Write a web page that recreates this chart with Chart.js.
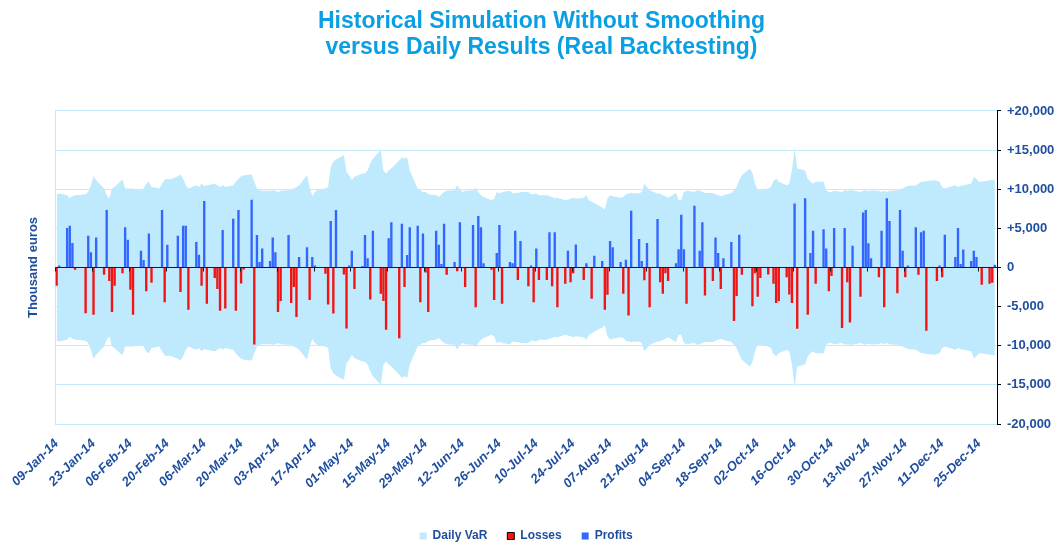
<!DOCTYPE html>
<html>
<head>
<meta charset="utf-8">
<script src="https://cdn.jsdelivr.net/npm/chart.js@4.4.1/dist/chart.umd.min.js"></script>
<style>
  html, body { margin: 0; padding: 0; background: #fff; }
  #wrap { width: 1063px; height: 547px; }
</style>
</head>
<body>
<div id="wrap"><canvas id="c"></canvas></div>
<script>
/* Backtesting VaR: banda VaR simmetrica + risultati giornalieri (migliaia di euro).
 * Asse X in giorni di calendario dal 09-Jan-14, un punto per giorno lavorativo. */

// etichette asse X, una ogni 14 giorni
const tickLabels = ['09-Jan-14', '23-Jan-14', '06-Feb-14', '20-Feb-14', '06-Mar-14', '20-Mar-14', '03-Apr-14',
  '17-Apr-14', '01-May-14', '15-May-14', '29-May-14', '12-Jun-14', '26-Jun-14', '10-Jul-14', '24-Jul-14',
  '07-Aug-14', '21-Aug-14', '04-Sep-14', '18-Sep-14', '02-Oct-14', '16-Oct-14', '30-Oct-14', '13-Nov-14',
  '27-Nov-14', '11-Dec-14', '25-Dec-14'];

// risultato giornaliero (una riga = 10 giorni lavorativi, da un'etichetta alla successiva)
const pnl = [
  -2300, 200, 5000, 5300, 3100, -250, 0, -5800, 4000, 1900,
  -6000, 3800, -900, 7300, -1700, -5650, -2300, -700, 5100, 3500,
  -2800, -6000, 2100, 900, -3000, 4300, -1900, 0, 7300, -4400,
  2850, 0, 4000, -3100, 5300, 5300, -5350, 3200, 1600, -2300,
  8450, -4600, -1300, -2700, -5500, 4750, -5200, 6200, -5500, 7300,
  -2000, -200, 8600, -9800, 4100, 650, 2400, 800, 3800, 1900,
  -5650, -4250, 4100, -4500, -2450, -6300, 1300, 2550, -4100, 1300,
  200, 0, -750, -4700, 5900, -5850, 7300, -850, -7750, 200,
  2100, -2700, 150, 4100, 1150, -4050, 4650, -3300, -4250, -7900,
  3700, 5750, -9000, 5550, -2450, 1550, 5100, 5300, -4400, 4300,
  -600, -5650, 4650, 2850, 400, 5550, -900, 650, -450, 5750,
  0, -2450, 5400, -5050, 6550, 5100, 500, -250, -4100, 1800,
  5400, -4600, 650, 500, 4650, -1550, 3350, -2350, 200, -4400,
  2400, -1550, -1550, 4450, -2350, 4450, -5050, -2050, 2100, -1850,
  -700, 2900, -1550, 500, 0, -3950, 1450, 800, -5350, -3450,
  3350, 2550, 650, -3300, 950, -6100, 7200, 3600, 800, -1600,
  3100, -5050, 6150, -1850, -3300, -700, -1700, 500, 2300, 6700,
  2300, -4600, 7850, 0, 2100, 5750, -3550, -1700, 3800, 1800,
  -2700, 1150, 3200, -6800, -3600, 4150, -900, 0, -4900, -700,
  -3700, -1300, -850, 0, -2050, -4500, -4250, -1200, -3400, -4500,
  8150, -7800, 8800, -6000, 1800, 4650, -2050, 4850, 2400, -3000,
  -1050, 5000, -7700, 5000, -1850, -7000, 2750, -3700, 7000, 7300,
  3050, 1150, -1200, 4650, -5050, 8800, 5900, -3250, 7300, 2100,
  -1200, 200, 5100, -900, 4450, 4650, -8050, 0, -1700, 200,
  -1200, 4150, 0, 1300, 5000, 400, 2250, 800, 2100, 1300,
  0, -2150, -2050, -1900, 300,
];

// VaR giornaliero (ampiezza della banda, simmetrica)
const dailyVar = [
  9360, 9450, 9230, 8850, 9100, 9230, 9230, 9360, 9660, 10500,
  11650, 11150, 10100, 9230, 8800, 10100, 10300, 11250, 10100, 10100,
  10100, 10100, 9870, 10100, 10700, 11000, 10300, 10100, 10700, 11250,
  11300, 11250, 11650, 11870, 11350, 10500, 10100, 10500, 10300, 10700,
  10400, 10500, 10700, 10500, 10300, 10500, 10300, 10500, 10950, 11350,
  11650, 11800, 11870, 10950, 10100, 9870, 9800, 9800, 9870, 9800,
  9660, 9800, 9870, 9870, 10100, 10300, 10500, 11800, 10300, 9100,
  9660, 9900, 10100, 10300, 12850, 13500, 13800, 14350, 12200, 11800,
  11150, 11600, 12000, 12000, 12400, 13300, 13900, 15000, 12400, 12000,
  12400, 12650, 13700, 14100, 13900, 14100, 12400, 10100, 9870, 9660,
  9660, 9360, 9230, 9000, 9360, 9660, 9800, 9870, 10500, 9960,
  9660, 9800, 9870, 10200, 9660, 9230, 9000, 8600, 8800, 9660,
  9450, 9660, 9800, 9450, 9530, 9530, 9660, 9660, 9360, 9360,
  9450, 9230, 9230, 9100, 9000, 8850, 8900, 8600, 8700, 8800,
  8900, 8800, 8900, 9230, 8600, 8400, 8200, 7660, 7400, 8800,
  9230, 9100, 8900, 9000, 9360, 9450, 9530, 9450, 9660, 10700,
  10300, 9870, 9450, 9450, 9230, 9100, 8900, 9530, 8600, 8600,
  9660, 9800, 9660, 9870, 9800, 9660, 9530, 9530, 9360, 9230,
  9100, 9230, 9530, 9870, 10300, 11150, 11800, 12650, 12100, 10700,
  9870, 9870, 10100, 10300, 11050, 11350, 10950, 10500, 10700, 12400,
  15200, 12650, 12400, 11350, 10950, 10700, 10950, 10950, 9870, 9660,
  9660, 9800, 9660, 9870, 9800, 9870, 9870, 9660, 9800, 9870,
  9730, 9850, 9800, 9660, 9800, 9660, 9800, 9870, 9960, 10100,
  10300, 10400, 10500, 10700, 10950, 10950, 11050, 11150, 11050, 10950,
  10300, 10100, 10400, 10500, 10300, 10400, 10500, 10700, 11600, 11350,
  10950, 10950, 11150, 11150, 11250,
];

const TX = '#1f4e9f', TITLE = '#0a9fe3', GRID = '#c3ebfc', BAND = '#bfe9fc';
const LOSS = '#f21313', PROFIT = '#3366ff';
Chart.defaults.font.family = '"Liberation Sans", Arial, sans-serif';

// giorni lavorativi → offset in giorni di calendario dal 09-Jan-14
const days = [];
for (let d = 0; days.length < pnl.length; d++) {
  const wd = new Date(2014, 0, 9 + d).getDay();
  if (wd !== 0 && wd !== 6) days.push(d);
}

const band = (sign) => days.map((d, i) => ({ x: d, y: sign * dailyVar[i] }));
const bars = (keep) => days.map((d, i) => ({ x: d, y: pnl[i] })).filter((p) => keep(p.y));

// linea dello zero e tacche dell'asse categorie sopra la banda
const axisMarks = {
  id: 'axisMarks',
  afterDatasetsDraw(chart) {
    const { ctx, chartArea: a, scales: { x, y } } = chart;
    const y0 = Math.round(y.getPixelForValue(0)) + 0.5;
    ctx.save();
    ctx.strokeStyle = '#1a1a1a';
    ctx.lineWidth = 1;
    ctx.beginPath();
    ctx.moveTo(a.left, y0); ctx.lineTo(a.right, y0);
    tickLabels.forEach((_, i) => {
      const px = Math.round(x.getPixelForValue(i * 14 - 0.5)) + 0.5;
      ctx.moveTo(px, y0); ctx.lineTo(px, y0 + 4);
    });
    ctx.stroke();
    ctx.restore();
  },
};

new Chart(document.getElementById('c'), {
  type: 'bar',
  data: { datasets: [
    { type: 'line', label: 'Daily VaR', data: band(1), backgroundColor: BAND, borderWidth: 0, pointRadius: 0, fill: '+1', order: 2 },
    { type: 'line', label: 'Daily VaR (-)', data: band(-1), backgroundColor: BAND, borderWidth: 0, pointRadius: 0, fill: false, order: 2 },
    { label: 'Losses', data: bars((v) => v < 0), backgroundColor: LOSS, barThickness: 1.7, grouped: false, order: 1 },
    { label: 'Profits', data: bars((v) => v > 0), backgroundColor: PROFIT, barThickness: 1.7, grouped: false, order: 1 },
  ] },
  options: {
    responsive: true, maintainAspectRatio: false, animation: false,
    layout: { padding: { left: 26, right: 6, top: 0, bottom: 0 } },
    plugins: {
      tooltip: { enabled: false },
      title: {
        display: true,
        text: ['Historical Simulation Without Smoothing', 'versus Daily Results (Real Backtesting)'],
        color: TITLE, font: { size: 23, weight: 'bold', lineHeight: 1.13 },
        padding: { top: 9, bottom: 50 },
      },
      legend: {
        position: 'bottom', fullSize: false, maxHeight: 37,
        labels: {
          boxWidth: 7, boxHeight: 7, padding: 20, color: TX, font: { size: 12, weight: 'bold' },
          generateLabels: () => [
            { text: 'Daily VaR', fillStyle: BAND, strokeStyle: BAND, lineWidth: 0, fontColor: TX, datasetIndex: 0 },
            { text: 'Losses', fillStyle: LOSS, strokeStyle: '#000', lineWidth: 1, fontColor: TX, datasetIndex: 2 },
            { text: 'Profits', fillStyle: PROFIT, strokeStyle: PROFIT, lineWidth: 0, fontColor: TX, datasetIndex: 3 },
          ],
        },
      },
    },
    scales: {
      x: {
        type: 'linear', min: -0.5, max: 356.8, offset: false,
        grid: { display: false, drawTicks: false }, border: { display: false },
        afterBuildTicks: (axis) => { axis.ticks = tickLabels.map((_, i) => ({ value: i * 14 })); },
        afterFit: (axis) => { axis.height = 86; },
        ticks: {
          autoSkip: false, minRotation: 45, maxRotation: 45, padding: 12, color: TX,
          font: { size: 13, weight: 'bold', style: 'italic' },
          callback: (v, i) => tickLabels[i],
        },
      },
      y: {
        position: 'right', min: -20000, max: 20000,
        grid: { color: GRID, tickColor: '#000', tickLength: 4 },
        border: { display: true, color: '#000', width: 1 },
        afterFit: (axis) => { axis.width = 60; },
        ticks: {
          stepSize: 5000, padding: 6, color: TX, font: { size: 13, weight: 'bold' },
          callback: (v) => (v > 0 ? '+' : '') + v.toLocaleString('en-US'),
        },
      },
      yL: {
        position: 'left',
        grid: { display: false, drawTicks: false },
        border: { display: true, color: GRID },
        ticks: { display: false },
        afterFit: (axis) => { axis.width = 29.3; },
        title: { display: true, text: 'Thousand euros', color: TX, font: { size: 13, weight: 'bold' }, padding: 0 },
      },
    },
  },
  plugins: [axisMarks],
});
</script>
</body>
</html>
